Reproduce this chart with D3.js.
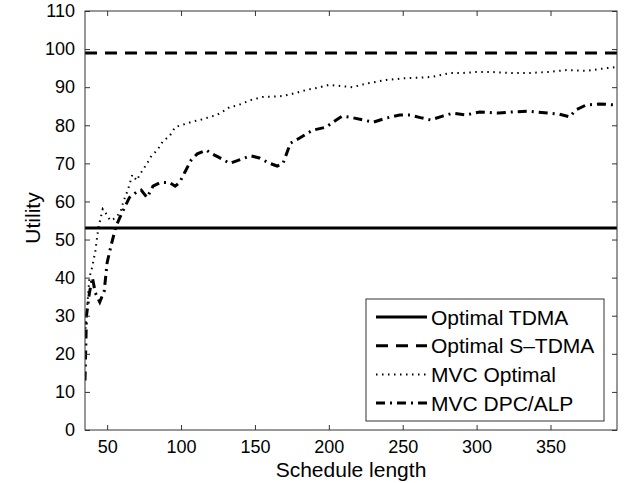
<!DOCTYPE html>
<html>
<head>
<meta charset="utf-8">
<script src="https://cdn.jsdelivr.net/npm/d3@7"></script>
<style>
  body { margin: 0; background: #fff; }
  text { font-family: "Liberation Sans", Arial, sans-serif; }
</style>
</head>
<body>
<div id="chart"></div>
<script>
// values
const xTicks = [50, 100, 150, 200, 250, 300, 350];
const yTicks = [0, 10, 20, 30, 40, 50, 60, 70, 80, 90, 100, 110];
const tdmaValue = 53;
const stdmaValue = 99;

const optX = [35, 36, 38, 40, 42, 44, 47, 50, 52, 55, 59, 61, 64, 67, 70, 72, 77, 80, 84, 88, 92, 96, 100, 104, 108, 113, 118, 124, 130, 133, 138, 142, 147, 155, 162, 169, 178, 185, 192, 200, 208, 216, 226, 239, 253, 262, 270, 282, 290, 300, 310, 324, 335, 349, 361, 374, 388, 395];
const optY = [25, 30, 40, 43, 47, 53, 58, 56.4, 55, 55.5, 57.2, 60, 63, 67, 65.5, 67, 70, 72, 73.5, 76, 77, 79.5, 80, 80.5, 81, 81.4, 82, 82.7, 84, 84.8, 85.2, 85.8, 86.6, 87.4, 87.5, 87.7, 88.5, 89.3, 89.8, 90.6, 90.3, 90, 91, 91.9, 92.4, 92.5, 92.7, 93.7, 93.7, 94, 94, 93.7, 93.7, 94, 94.5, 94.3, 95, 95.3];

const dpcX = [35, 36, 38, 40, 42, 45, 48, 50, 53, 56, 60, 65, 70, 73, 77, 81, 86, 92, 96, 99, 103, 107, 111, 117, 120, 126, 133, 140, 147, 153, 160, 165, 169, 174, 180, 189, 198, 205, 209, 216, 223, 230, 239, 248, 255, 262, 269, 277, 284, 293, 302, 315, 324, 334, 349, 356, 363, 367, 374, 383, 395];
const dpcY = [13, 30, 36, 40, 36, 33.6, 36.5, 44, 49, 53.5, 57, 61, 62.5, 63, 61, 64, 65, 65, 64, 65, 68, 71, 72.5, 73.5, 72.7, 71.5, 70, 71, 72, 71.4, 70, 69.3, 70, 75.3, 76.6, 78.7, 79.5, 81.4, 82.4, 82, 81.4, 80.8, 81.9, 82.7, 82.7, 82, 81.4, 82.4, 83.2, 82.7, 83.5, 83.2, 83.5, 83.7, 83.2, 82.9, 82.2, 84, 85.3, 85.6, 85.3];

const legendLabels = ["Optimal TDMA", "Optimal S\u2013TDMA", "MVC Optimal", "MVC DPC/ALP"];

const W = 627, H = 483;
const mL = 85, mR = 617, mT = 11, mB = 430;

const svg = d3.select("#chart").append("svg")
  .attr("width", W).attr("height", H);

const x = d3.scaleLinear().domain([35, 395]).range([mL, mR]);
const y = d3.scaleLinear().domain([0, 110]).range([mB, mT]);

const styles = [
  { w: 3, dash: null },
  { w: 3, dash: "12,8" },
  { w: 2, dash: "1.5,4.5" },
  { w: 3, dash: "9,5,2,5" }
];

// clip for the data
svg.append("clipPath").attr("id", "clip")
  .append("rect").attr("x", mL).attr("y", mT)
  .attr("width", mR - mL).attr("height", mB - mT);

const plot = svg.append("g").attr("clip-path", "url(#clip)");

const line = d3.line().x(d => x(d[0])).y(d => y(d[1]));

plot.append("path")
  .datum([[35, tdmaValue], [395, tdmaValue]])
  .attr("d", line).attr("fill", "none").attr("stroke", "#000")
  .attr("stroke-width", styles[0].w);
plot.append("path")
  .datum([[35, stdmaValue], [395, stdmaValue]])
  .attr("d", line).attr("fill", "none").attr("stroke", "#000")
  .attr("stroke-width", styles[1].w).attr("stroke-dasharray", styles[1].dash);
plot.append("path")
  .datum(d3.zip(optX, optY))
  .attr("d", line).attr("fill", "none").attr("stroke", "#000")
  .attr("stroke-width", styles[2].w).attr("stroke-dasharray", styles[2].dash);
plot.append("path")
  .datum(d3.zip(dpcX, dpcY))
  .attr("d", line).attr("fill", "none").attr("stroke", "#000")
  .attr("stroke-width", styles[3].w).attr("stroke-dasharray", styles[3].dash);

// axes, MATLAB style: ticks inside on all four sides
const axisColor = "#333";
const tl = 5;
const axisG = svg.append("g");
axisG.append("g").attr("transform", `translate(0,${mB})`)
  .call(d3.axisBottom(x).tickValues(xTicks).tickSizeInner(-tl).tickSizeOuter(0).tickPadding(10))
  .call(g => g.select(".domain").remove());
axisG.append("g").attr("transform", `translate(0,${mT})`)
  .call(d3.axisTop(x).tickValues(xTicks).tickSizeInner(-tl).tickSizeOuter(0).tickFormat(""))
  .call(g => g.select(".domain").remove());
axisG.append("g").attr("transform", `translate(${mL},0)`)
  .call(d3.axisLeft(y).tickValues(yTicks).tickSizeInner(-tl).tickSizeOuter(0).tickPadding(10))
  .call(g => g.select(".domain").remove());
axisG.append("g").attr("transform", `translate(${mR},0)`)
  .call(d3.axisRight(y).tickValues(yTicks).tickSizeInner(-tl).tickSizeOuter(0).tickFormat(""))
  .call(g => g.select(".domain").remove());
axisG.selectAll("line").attr("stroke", axisColor);
axisG.selectAll("text").attr("font-size", 18).attr("fill", "#000")
  .attr("font-family", "Liberation Sans, Arial, sans-serif");

svg.append("rect").attr("x", mL).attr("y", mT)
  .attr("width", mR - mL).attr("height", mB - mT)
  .attr("fill", "none").attr("stroke", axisColor).attr("stroke-width", 1);

svg.append("text").attr("x", (mL + mR) / 2).attr("y", 477)
  .attr("text-anchor", "middle").attr("font-size", 21).text("Schedule length");
svg.append("text")
  .attr("transform", "translate(40,218) rotate(-90)")
  .attr("text-anchor", "middle").attr("font-size", 21).text("Utility");

// legend
const lg = svg.append("g").attr("transform", "translate(366,299)");
lg.append("rect").attr("width", 238).attr("height", 122)
  .attr("fill", "#fff").attr("stroke", axisColor).attr("stroke-width", 1);
legendLabels.forEach((lab, i) => {
  const yy = 18 + i * 28.7;
  lg.append("line").attr("x1", 10).attr("x2", 61).attr("y1", yy).attr("y2", yy)
    .attr("stroke", "#000").attr("stroke-width", styles[i].w)
    .attr("stroke-dasharray", styles[i].dash);
  lg.append("text").attr("x", 65).attr("y", yy + 7.5)
    .attr("font-size", 21).text(lab);
});
</script>
</body>
</html>
